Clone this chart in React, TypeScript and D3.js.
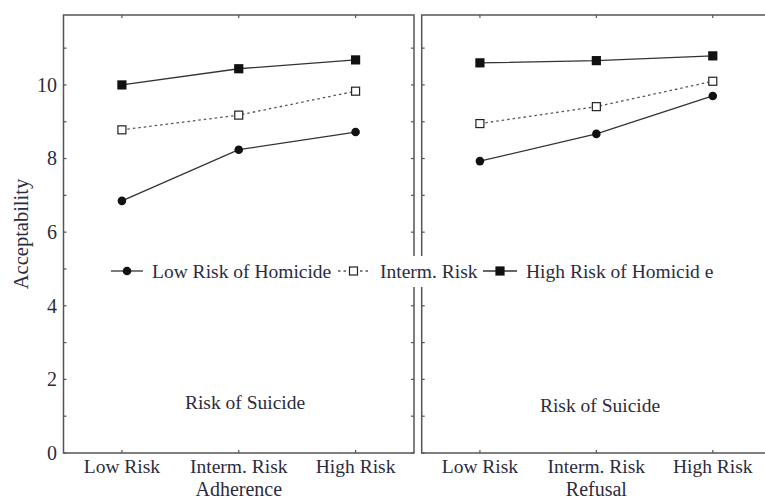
import { useLayoutEffect, useRef } from "react";
import * as d3 from "d3";

const W = 765;
const H = 501;

const categories = ["Low Risk", "Interm. Risk", "High Risk"];
const panelTitles = ["Adherence", "Refusal"];

// acceptability means
const adherenceLow = [6.85, 8.24, 8.72];
const adherenceInterm = [8.78, 9.18, 9.83];
const adherenceHigh = [10.0, 10.44, 10.68];
const refusalLow = [7.93, 8.67, 9.7];
const refusalInterm = [8.95, 9.41, 10.1];
const refusalHigh = [10.6, 10.66, 10.79];

const majorTicks = [0, 2, 4, 6, 8, 10];
const minorTicks = [1, 3, 5, 7, 9, 11];

const seriesNames = ["Low Risk of Homicide", "Interm. Risk", "High Risk of Homicid e"];

const TEXT = "#2c2c40";
const FRAME = "#555";
const FONT = "'Liberation Serif', 'Times New Roman', serif";

type Series = { name: string; values: number[]; marker: "circle" | "open" | "filled"; dashed: boolean };

export default function App() {
  const svgRef = useRef<SVGSVGElement>(null);

  useLayoutEffect(() => {
    const svgEl = svgRef.current;
    if (!svgEl) return;
    const root = d3.select(svgEl);
    root.selectAll("*").remove();

    const top = 15;
    const bottom = 453;
    const y = d3.scaleLinear().domain([0, 11.9]).range([bottom, top]);

    const panels = [
      {
        left: 63.5,
        right: 414,
        series: [
          { name: seriesNames[0], values: adherenceLow, marker: "circle", dashed: false },
          { name: seriesNames[1], values: adherenceInterm, marker: "open", dashed: true },
          { name: seriesNames[2], values: adherenceHigh, marker: "filled", dashed: false },
        ] as Series[],
        title: panelTitles[0],
        noteX: 245,
        noteY: 409,
      },
      {
        left: 421.7,
        right: 771,
        series: [
          { name: seriesNames[0], values: refusalLow, marker: "circle", dashed: false },
          { name: seriesNames[1], values: refusalInterm, marker: "open", dashed: true },
          { name: seriesNames[2], values: refusalHigh, marker: "filled", dashed: false },
        ] as Series[],
        title: panelTitles[1],
        noteX: 600,
        noteY: 412,
      },
    ];

    const drawMarker = (g: d3.Selection<SVGGElement, unknown, null, undefined>, kind: string, cx: number, cy: number) => {
      if (kind === "circle") {
        g.append("circle").attr("cx", cx).attr("cy", cy).attr("r", 4.3).attr("fill", "#111");
      } else if (kind === "filled") {
        g.append("rect").attr("x", cx - 4.6).attr("y", cy - 4.6).attr("width", 9.2).attr("height", 9.2).attr("fill", "#111");
      } else {
        g.append("rect")
          .attr("x", cx - 4)
          .attr("y", cy - 4)
          .attr("width", 8)
          .attr("height", 8)
          .attr("fill", "#fff")
          .attr("stroke", "#222")
          .attr("stroke-width", 1.2);
      }
    };

    panels.forEach((p, pi) => {
      const x = d3.scalePoint<string>().domain(categories).range([p.left, p.right]).padding(0.5);
      const g = root.append("g");

      // frame
      g.append("rect")
        .attr("x", p.left)
        .attr("y", top)
        .attr("width", p.right - p.left)
        .attr("height", bottom - top)
        .attr("fill", "none")
        .attr("stroke", FRAME)
        .attr("stroke-width", 1.5);

      // y ticks, inward on both sides
      [...majorTicks, ...minorTicks].forEach((t) => {
        g.append("line").attr("x1", p.left).attr("x2", p.left + 3).attr("y1", y(t)).attr("y2", y(t)).attr("stroke", FRAME).attr("stroke-width", 1.2);
        g.append("line").attr("x1", p.right).attr("x2", p.right - 3).attr("y1", y(t)).attr("y2", y(t)).attr("stroke", FRAME).attr("stroke-width", 1.2);
      });
      // x ticks, inward top and bottom
      categories.forEach((c) => {
        const cx = x(c) ?? 0;
        g.append("line").attr("x1", cx).attr("x2", cx).attr("y1", top).attr("y2", top + 3).attr("stroke", FRAME).attr("stroke-width", 1.2);
        g.append("line").attr("x1", cx).attr("x2", cx).attr("y1", bottom).attr("y2", bottom - 3).attr("stroke", FRAME).attr("stroke-width", 1.2);
        g.append("text")
          .attr("x", cx)
          .attr("y", 472.5)
          .attr("text-anchor", "middle")
          .attr("font-size", 19.5)
          .attr("font-family", FONT)
          .attr("fill", TEXT)
          .text(c);
      });

      if (pi === 0) {
        majorTicks.forEach((t) => {
          g.append("text")
            .attr("x", 57)
            .attr("y", y(t))
            .attr("dy", "0.34em")
            .attr("text-anchor", "end")
            .attr("font-size", 20)
            .attr("font-family", FONT)
            .attr("fill", TEXT)
            .text(t);
        });
      }

      g.append("text")
        .attr("x", (x(categories[1]) ?? 0))
        .attr("y", 495.5)
        .attr("text-anchor", "middle")
        .attr("font-size", 20)
        .attr("font-family", FONT)
        .attr("fill", TEXT)
        .text(p.title);

      g.append("text")
        .attr("x", p.noteX)
        .attr("y", p.noteY)
        .attr("text-anchor", "middle")
        .attr("font-size", 19.5)
        .attr("font-family", FONT)
        .attr("fill", TEXT)
        .text("Risk of Suicide");

      const line = d3
        .line<number>()
        .x((_, i) => x(categories[i]) ?? 0)
        .y((d) => y(d));

      p.series.forEach((s) => {
        g.append("path")
          .attr("d", line(s.values) ?? "")
          .attr("fill", "none")
          .attr("stroke", s.dashed ? "#555" : "#333")
          .attr("stroke-width", 1.3)
          .attr("stroke-dasharray", s.dashed ? "2.5,3" : null);
      });
      p.series.forEach((s) => {
        s.values.forEach((v, i) => drawMarker(g, s.marker, x(categories[i]) ?? 0, y(v)));
      });
    });

    // y axis title
    root
      .append("text")
      .attr("transform", "translate(28,234) rotate(-90)")
      .attr("text-anchor", "middle")
      .attr("font-size", 20.5)
      .attr("font-family", FONT)
      .attr("fill", TEXT)
      .text("Acceptability");

    // legend, with a white box over the frames
    const lg = root.append("g");
    lg.append("rect").attr("x", 104).attr("y", 256).attr("width", 618).attr("height", 31).attr("fill", "#fff");
    const legendItems = [
      { marker: "circle", dashed: false, x1: 111, x2: 143, tx: 152 },
      { marker: "open", dashed: true, x1: 338, x2: 369, tx: 380 },
      { marker: "filled", dashed: false, x1: 483, x2: 517, tx: 526 },
    ];
    const ly = 271;
    legendItems.forEach((it, i) => {
      lg.append("line")
        .attr("x1", it.x1)
        .attr("x2", it.x2)
        .attr("y1", ly)
        .attr("y2", ly)
        .attr("stroke", it.dashed ? "#555" : "#333")
        .attr("stroke-width", 1.3)
        .attr("stroke-dasharray", it.dashed ? "2.5,3" : null);
      drawMarker(lg, it.marker, (it.x1 + it.x2) / 2, ly);
      lg.append("text")
        .attr("x", it.tx)
        .attr("y", ly)
        .attr("dy", "0.34em")
        .attr("font-size", 19.5)
        .attr("font-family", FONT)
        .attr("fill", TEXT)
        .text(seriesNames[i]);
    });
  }, []);

  return (
    <svg
      ref={svgRef}
      width={W}
      height={H}
      style={{ position: "absolute", left: 0, top: 0, background: "#fff", display: "block" }}
    />
  );
}
